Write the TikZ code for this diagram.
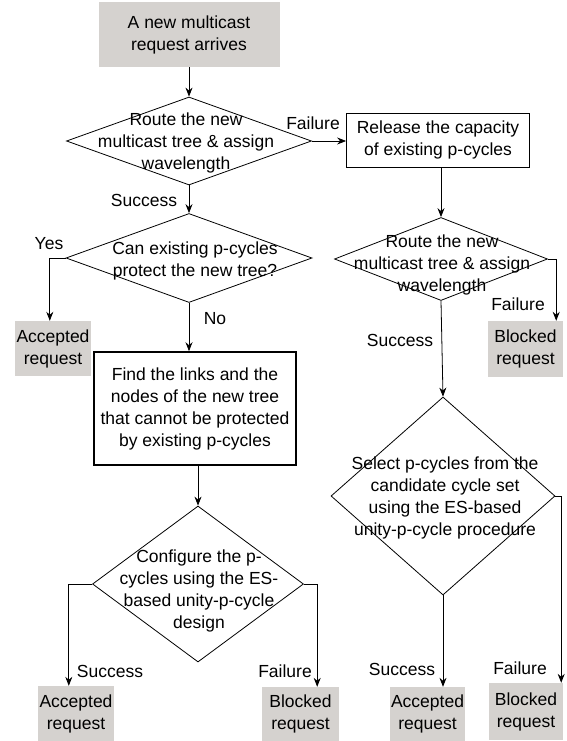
\documentclass[tikz,border=0pt]{standalone}
\usepackage{fontspec}
\setmainfont{Liberation Sans}
\usetikzlibrary{shapes.geometric,arrows.meta}
\definecolor{boxgrey}{RGB}{213,210,207}

\begin{document}
\begin{tikzpicture}[x=1pt,y=-1pt,
    font=\fontsize{17.5}{22}\selectfont,
    greybox/.style={fill=boxgrey, align=center, inner sep=0pt, minimum width=76pt, minimum height=55pt},
    plainbox/.style={draw, line width=0.8pt, align=center, inner sep=0pt},
    decision/.style={draw, diamond, line width=0.8pt, inner sep=0pt},
    txt/.style={align=center, inner sep=0pt},
    flow/.style={line width=0.8pt, -{Stealth[length=9pt,width=7pt,inset=3pt]}},
    lbl/.style={inner sep=0pt}]
  \useasboundingbox (0,0) rectangle (566,741);
  \node[greybox, minimum width=181pt, minimum height=65pt] (start) at (189,34.5) {A new multicast\\request arrives};
  \node[decision, minimum width=245pt, minimum height=88pt] (route) at (189,141) {};
  \node[txt] (routetxt) at (186,143) {Route the new\\multicast tree \& assign\\wavelength};
  \node[decision, minimum width=246pt, minimum height=89pt] (protect) at (189,258) {};
  \node[txt] (protecttxt) at (195,261) {Can existing p-cycles\\protect the new tree?};
  \node[greybox] (acc1) at (53,348.5) {Accepted\\request};
  \node[plainbox, line width=1.6pt, minimum width=202pt, minimum height=113pt] (find) at (195,408.5) {Find the links and the\\nodes of the new tree\\that cannot be protected\\by existing p-cycles};
  \node[decision, minimum width=211pt, minimum height=156pt] (config) at (198,584) {};
  \node[txt] (configtxt) at (199,591) {Configure the p-\\cycles using the ES-\\based unity-p-cycle\\design};
  \node[greybox] (acc2) at (76,713.5) {Accepted\\request};
  \node[greybox, minimum width=77pt, minimum height=54pt] (blk2) at (300.5,714) {Blocked\\request};
  \node[plainbox, minimum width=183pt, minimum height=54pt] (release) at (438,140) {Release the capacity\\of existing p-cycles};
  \node[decision, minimum width=213pt, minimum height=83pt] (reroute) at (441,259) {};
  \node[txt] (reroutetxt) at (442,265) {Route the new\\multicast tree \& assign\\wavelength};
  \node[greybox, minimum width=75pt, minimum height=56pt] (blk1) at (525.5,349) {Blocked\\request};
  \node[decision, minimum width=224pt, minimum height=198pt] (select) at (443,496) {};
  \node[txt] (selecttxt) at (445,498) {Select p-cycles from the\\candidate cycle set\\using the ES-based\\unity-p-cycle procedure};
  \node[greybox, minimum width=75pt, minimum height=54pt] (acc3) at (427.5,714) {Accepted\\request};
  \node[greybox, minimum width=74pt, minimum height=57pt] (blk3) at (526,711.5) {Blocked\\request};
  \draw[flow] (start.south) -- (route.north);
  \draw[flow] (route.east) -- (release.west |- route.east);
  \draw[flow] (route.south) -- (protect.north);
  \draw[flow] (protect.west) -| ([xshift=35pt]acc1.north west);
  \draw[flow] (protect.south) -- (protect.south |- find.north);
  \draw[flow] (find.south -| config.north) -- (config.north);
  \draw[flow] (config.west) -| ([xshift=31pt]acc2.north west);
  \draw[flow] (config.east) -| ([xshift=-22pt]blk2.north east);
  \draw[flow] (release.south -| reroute.north) -- (reroute.north);
  \draw[flow] (reroute.east) -| ([xshift=-7pt]blk1.north east);
  \draw[flow] (reroute.south) -- (select.north);
  \draw[flow] (select.east) -| ([xshift=-2pt]blk3.north east);
  \draw[flow] (select.south) -- (select.south |- acc3.north);
  \node[lbl] (fail1) at (313,123) {Failure};
  \node[lbl] (succ1) at (144,200) {Success};
  \node[lbl] (yes) at (49,244) {Yes};
  \node[lbl] (no) at (215,319) {No};
  \node[lbl] (fail2) at (518,304) {Failure};
  \node[lbl] (succ2) at (400,340) {Success};
  \node[lbl] (succ3) at (110,671) {Success};
  \node[lbl] (fail3) at (285,671) {Failure};
  \node[lbl] (succ4) at (402,669) {Success};
  \node[lbl] (fail4) at (520,668) {Failure};
\end{tikzpicture}
\end{document}
